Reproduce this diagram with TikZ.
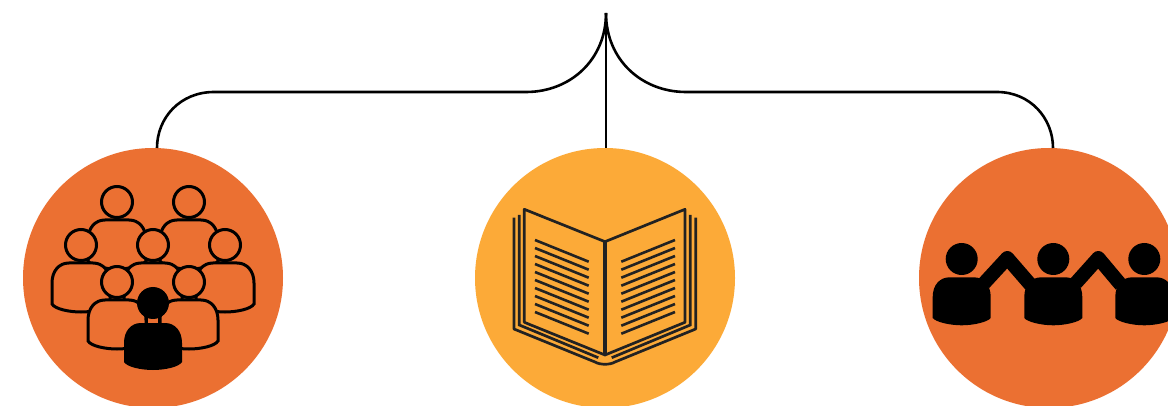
\documentclass[tikz,border=0pt]{standalone}
\definecolor{deeporange}{HTML}{EB7032}
\definecolor{lightorange}{HTML}{FCAA38}
\definecolor{bookink}{HTML}{222222}
\tikzset{
  x=1pt,y=-1pt,
  disc/.style={circle,draw=none,minimum size=260pt,inner sep=0pt},
  connector/.style={draw=black,line width=2.6pt},
  bookline/.style={draw=bookink,line width=2.7pt},
  pagetext/.style={draw=bookink,line width=2.6pt},
  outlined/.pic={
    \draw[black,line width=3pt,fill=deeporange] (-29,38) .. controls (-29,26) and (-22,18) .. (-12,18) -- (12,18) .. controls (22,18) and (29,26) .. (29,38) -- (29,59) .. controls (26,64) and (12,67) .. (0,67) .. controls (-12,67) and (-26,64) .. (-29,59) -- cycle;
    \draw[black,line width=3pt,fill=deeporange] (0,0) circle[radius=15.5];
  },
  teammate/.pic={
    \fill[black] (0,0) circle[radius=16];
    \fill[black] (-29,38) .. controls (-29,26) and (-22,18.3) .. (-12,18.3) -- (12,18.3) .. controls (22,18.3) and (29,26) .. (29,38) -- (29,59) .. controls (26,63) and (12,66.3) .. (0,66.3) .. controls (-12,66.3) and (-26,63) .. (-29,59) -- cycle;
  }
}
\begin{document}
\begin{tikzpicture}
\clip (0,0) rectangle (1168,406);
\fill[white] (0,0) rectangle (1168,406);
% discs
\node[disc,fill=deeporange] (left) at (153,278) {};
\node[disc,fill=lightorange] (mid) at (605,278) {};
\node[disc,fill=deeporange] (right) at (1049,278) {};
% connectors
\coordinate (root) at (606,13);
\coordinate (leftend) at (157,148);
\coordinate (midend) at (606,148);
\coordinate (rightend) at (1053,148);
\draw[connector] (root) -- (midend);
\draw[connector] (root) .. controls (606,60) and (570,92) .. (526,92) -- (214,92) .. controls (180,92) and (157,118) .. (leftend);
\draw[connector] (root) .. controls (606,60) and (642,92) .. (686,92) -- (997,92) .. controls (1030,92) and (1053,118) .. (rightend);
% audience
\pic at (117,202) {outlined};
\pic at (189,202) {outlined};
\pic at (81,245) {outlined};
\pic at (225,245) {outlined};
\pic at (153,245) {outlined};
\pic at (117,282) {outlined};
\pic at (189,282) {outlined};
\fill[black] (153,303) circle[radius=16];
\fill[black] (124,343) .. controls (124,331) and (131,323) .. (141,323) -- (165,323) .. controls (175,323) and (182,331) .. (182,343) -- (182,362) .. controls (179,367) and (165,370) .. (153,370) .. controls (141,370) and (127,367) .. (124,362) -- cycle;
\fill[deeporange] (147,318.5) rectangle (159,323);
\draw[black,line width=1.3pt] (147,317) -- (147,323) (159,317) -- (159,323);
% book
\draw[bookline,line join=round] (524.3,209.3) -- (605,241.7) -- (685,209.3) -- (685,322.3) -- (605,355) -- (524.3,322.3) -- cycle;
\draw[draw=bookink,line width=3.4pt] (605,241.7) -- (605,355);
\draw[bookline] (519.3,215) -- (519.3,325) -- (598.3,357.7);
\draw[bookline] (690.3,215) -- (690.3,325) -- (611.7,357.7);
\draw[bookline,line join=round] (514,217.7) -- (514,329) -- (595,362) .. controls (600,365) and (610,365) .. (615,362) -- (695.7,329) -- (695.7,217.7);
\foreach \k in {0,...,9}{
  \draw[pagetext] (535,240+8*\k) -- (588.7,261.7+8*\k);
  \draw[pagetext] (621.3,261.7+8*\k) -- (675,240+8*\k);
}
% team
\foreach \hx in {961.7,1053.3,1144.3}{
  \pic at (\hx,259) {teammate};
}
\draw[black,line width=14pt,line join=round] (984,283.3) -- (1007.3,258) -- (1030.7,285);
\draw[black,line width=14pt,line join=round] (1075.6,283.3) -- (1098.3,258) -- (1121,285);
\end{tikzpicture}
\end{document}
